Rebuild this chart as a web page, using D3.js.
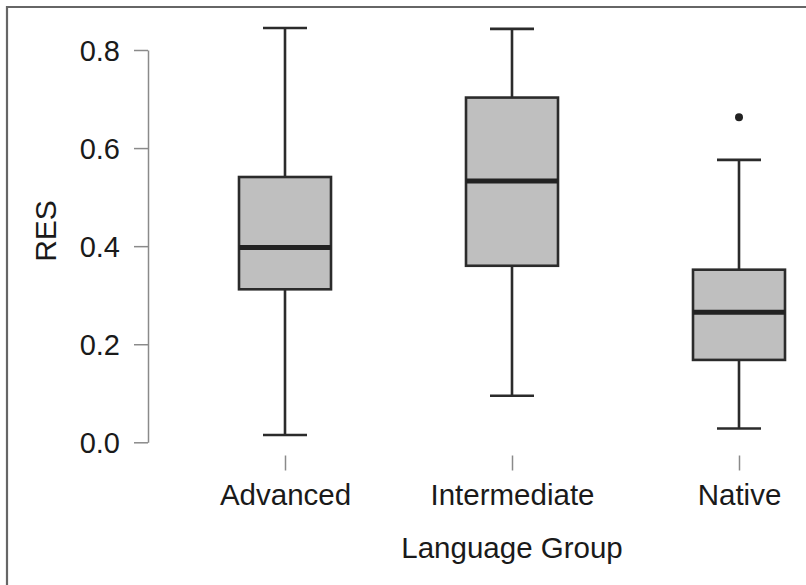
<!DOCTYPE html>
<html>
<head>
<meta charset="utf-8">
<script src="https://cdn.jsdelivr.net/npm/d3@7"></script>
<style>
  html, body { margin: 0; padding: 0; background: #fff; }
  svg { display: block; }
  text { font-family: "Liberation Sans", Arial, Helvetica, sans-serif; fill: #1a1a1a; }
</style>
</head>
<body>
<svg id="chart" width="806" height="585"></svg>
<script>
// Five-number summaries of RES per language group
const categories   = ["Advanced", "Intermediate", "Native"];
const lowWhisker   = [0.015, 0.095, 0.028];
const q1           = [0.312, 0.360, 0.168];
const median       = [0.397, 0.533, 0.265];
const q3           = [0.541, 0.703, 0.352];
const highWhisker  = [0.845, 0.843, 0.576];
const outliers     = [[], [], [0.663]];
const yTicks       = [0, 0.2, 0.4, 0.6, 0.8];
const yTitle       = "RES";
const xTitle       = "Language Group";

const svg = d3.select("#chart");
const W = 806, H = 585;

// Frame: left and top edges
svg.append("path")
  .attr("d", `M7,${H} L7,7 L${W},7`)
  .attr("fill", "none")
  .attr("stroke", "#666")
  .attr("stroke-width", 2.2);

const y = d3.scaleLinear().domain([0, 0.8]).range([442.3, 50]);
const x = d3.scalePoint().domain(categories).range([285, 739]);

const boxW = 92, capW = 44;
const ink = "#2b2b2b";

// y axis
const yAxis = svg.append("g")
  .attr("transform", "translate(148,0)")
  .call(d3.axisLeft(y).tickValues(yTicks).tickFormat(d3.format(".1f"))
    .tickSize(14).tickSizeOuter(0).tickPadding(14));
yAxis.select(".domain").attr("stroke", "#8a8a8a").attr("stroke-width", 1.5);
yAxis.selectAll(".tick line").attr("stroke", "#8a8a8a").attr("stroke-width", 1.5);
yAxis.selectAll(".tick text")
  .attr("font-size", 29)
  .attr("font-family", "'Liberation Sans', Arial, sans-serif")
  .attr("fill", "#1a1a1a")
  .attr("dy", "0.36em");

// x axis (ticks only)
const xAxis = svg.append("g")
  .attr("transform", "translate(0,455.5)")
  .call(d3.axisBottom(x).tickSize(15).tickPadding(13));
xAxis.select(".domain").remove();
xAxis.selectAll(".tick line").attr("stroke", "#8a8a8a").attr("stroke-width", 1.5);
xAxis.selectAll(".tick text")
  .attr("font-size", 29.5)
  .attr("font-family", "'Liberation Sans', Arial, sans-serif")
  .attr("fill", "#1a1a1a")
  .attr("y", 49).attr("dy", 0);

// axis titles
svg.append("text")
  .attr("transform", "translate(56,231) rotate(-90)")
  .attr("text-anchor", "middle")
  .attr("font-size", 30)
  .text(yTitle);
svg.append("text")
  .attr("x", 512).attr("y", 558)
  .attr("text-anchor", "middle")
  .attr("font-size", 29.5)
  .text(xTitle);

// boxes
const rows = categories.map((c, i) => ({
  c, lo: lowWhisker[i], q1: q1[i], med: median[i], q3: q3[i], hi: highWhisker[i], out: outliers[i]
}));

const g = svg.append("g");
rows.forEach(d => {
  const cx = x(d.c);
  // whiskers
  g.append("line").attr("x1", cx).attr("x2", cx).attr("y1", y(d.hi)).attr("y2", y(d.q3))
    .attr("stroke", ink).attr("stroke-width", 2.6);
  g.append("line").attr("x1", cx).attr("x2", cx).attr("y1", y(d.q1)).attr("y2", y(d.lo))
    .attr("stroke", ink).attr("stroke-width", 2.6);
  g.append("line").attr("x1", cx - capW / 2).attr("x2", cx + capW / 2).attr("y1", y(d.hi)).attr("y2", y(d.hi))
    .attr("stroke", ink).attr("stroke-width", 2.6);
  g.append("line").attr("x1", cx - capW / 2).attr("x2", cx + capW / 2).attr("y1", y(d.lo)).attr("y2", y(d.lo))
    .attr("stroke", ink).attr("stroke-width", 2.6);
  // box
  g.append("rect")
    .attr("x", cx - boxW / 2).attr("width", boxW)
    .attr("y", y(d.q3)).attr("height", y(d.q1) - y(d.q3))
    .attr("fill", "#bfbfbf").attr("stroke", ink).attr("stroke-width", 2.6);
  // median
  g.append("line").attr("x1", cx - boxW / 2).attr("x2", cx + boxW / 2).attr("y1", y(d.med)).attr("y2", y(d.med))
    .attr("stroke", "#222").attr("stroke-width", 5);
  // outliers
  d.out.forEach(v => {
    g.append("circle").attr("cx", cx).attr("cy", y(v)).attr("r", 4).attr("fill", "#222");
  });
});
</script>
</body>
</html>
